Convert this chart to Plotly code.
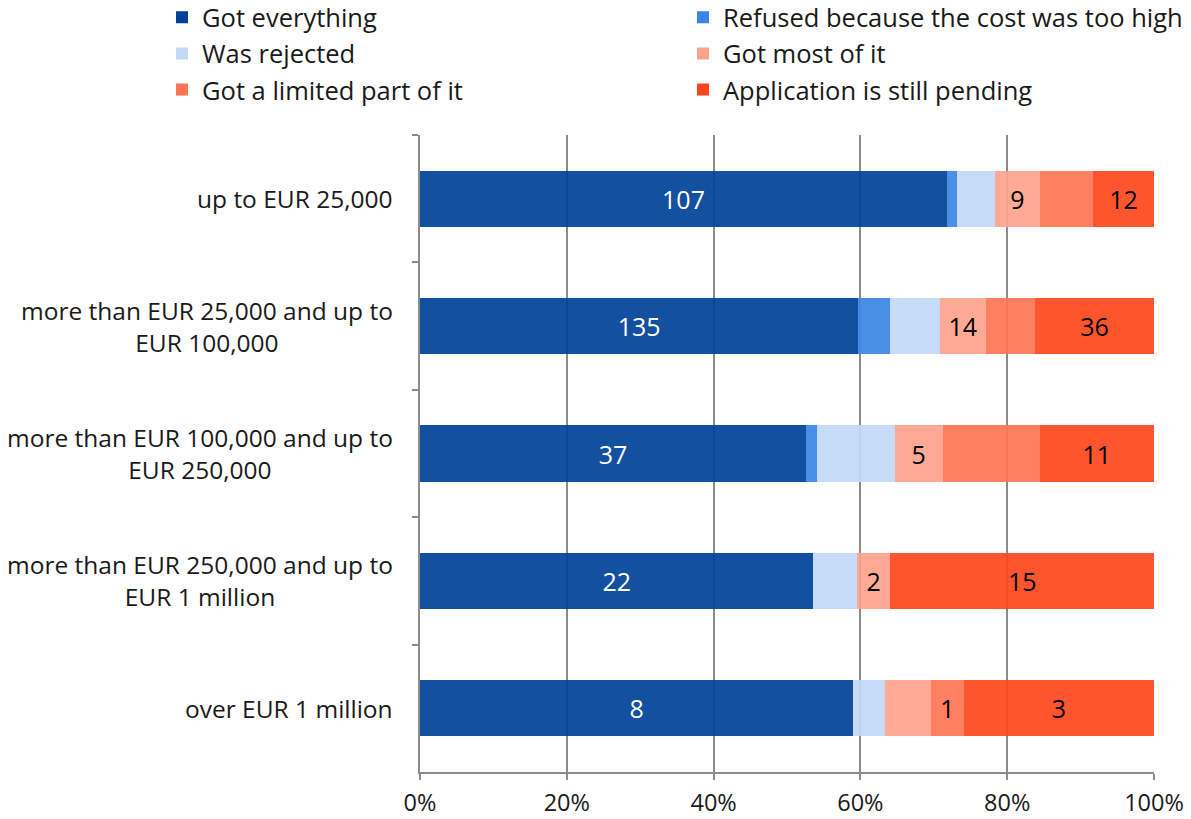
import plotly.graph_objects as go

categories = [
    "up to EUR 25,000",
    "more than EUR 25,000 and up to<br>EUR 100,000",
    "more than EUR 100,000 and up to<br>EUR 250,000",
    "more than EUR 250,000 and up to<br>EUR 1 million",
    "over EUR 1 million",
]

series_names = [
    "Got everything",
    "Refused because the cost was too high",
    "Was rejected",
    "Got most of it",
    "Got a limited part of it",
    "Application is still pending",
]

# shares (%)
got_everything = [71.8, 59.7, 52.6, 53.6, 59.0]
refused_cost = [1.3, 4.4, 1.5, 0.0, 0.0]
was_rejected = [5.3, 6.7, 10.6, 5.9, 4.4]
got_most = [6.0, 6.3, 6.5, 4.6, 6.2]
got_limited = [7.3, 6.7, 13.2, 0.0, 4.5]
still_pending = [8.3, 16.2, 15.6, 35.9, 25.9]

# count labels shown on the bars
lbl_everything = ["107", "135", "37", "22", "8"]
lbl_refused = [None, None, None, None, None]
lbl_rejected = [None, None, None, None, None]
lbl_most = ["9", "14", "5", "2", None]
lbl_limited = [None, None, None, None, "1"]
lbl_pending = ["12", "36", "11", "15", "3"]

values = [got_everything, refused_cost, was_rejected, got_most, got_limited, still_pending]
labels = [lbl_everything, lbl_refused, lbl_rejected, lbl_most, lbl_limited, lbl_pending]
colors = ["#004198", "#3A86E6", "#C1D8F6", "#FFA38B", "#FF7552", "#FF461C"]
text_colors = ["white", "black", "black", "black", "black", "black"]

FONT = "Open Sans"

fig = go.Figure()
for name, vals, lbls, col, tcol in zip(series_names, values, labels, colors, text_colors):
    fig.add_trace(go.Bar(
        y=categories, x=vals, name=name, orientation="h",
        marker=dict(color=col, opacity=0.92, line=dict(width=0)),
        text=[l if l is not None else "" for l in lbls],
        textposition="inside", insidetextanchor="middle", textangle=0,
        constraintext="none",
        textfont=dict(family=FONT, size=25, color=tcol),
        hoverinfo="skip",
    ))

annotations = []
for c in categories:
    annotations.append(dict(
        x=0, xref="paper", y=c, yref="y", xanchor="right", yanchor="middle",
        xshift=-25, text=c, showarrow=False, align="center",
        font=dict(family=FONT, size=24.5, color="#1a1a1a"),
    ))

fig.update_layout(
    width=1191, height=819,
    barmode="stack", bargap=0.56,
    paper_bgcolor="white", plot_bgcolor="white",
    margin=dict(l=420, r=37, t=135, b=47, autoexpand=False),
    font=dict(family=FONT, size=24, color="#1a1a1a"),
    legend=dict(
        orientation="h", xref="paper", yref="paper",
        x=-0.3515, y=1.221, xanchor="left", yanchor="top",
        entrywidth=476, entrywidthmode="pixels",
        font=dict(family=FONT, size=25.5, color="#1a1a1a"),
        traceorder="normal", itemclick=False,
    ),
    xaxis=dict(
        range=[0, 100], tickvals=[0, 20, 40, 60, 80, 100],
        ticktext=["0%", "20%", "40%", "60%", "80%", "100%"],
        showgrid=True, gridcolor="#8c8c8c", gridwidth=1.5,
        showline=True, linecolor="#8c8c8c", linewidth=1.5,
        ticks="outside", ticklen=6, tickcolor="#8c8c8c", tickwidth=1.5,
        tickfont=dict(family=FONT, size=23.5, color="#1a1a1a"),
        ticklabelstandoff=3, zeroline=False, fixedrange=True,
    ),
    yaxis=dict(
        autorange="reversed", type="category",
        showticklabels=False, tickson="boundaries",
        showline=True, linecolor="#8c8c8c", linewidth=1.5,
        ticks="outside", ticklen=6, tickcolor="#8c8c8c", tickwidth=1.5,
        showgrid=False, fixedrange=True,
    ),
    annotations=annotations,
)

fig.write_html(
    "out.html",
    config={"displayModeBar": False},
    post_script="document.body.style.margin='0';document.body.style.overflow='hidden';",
)
